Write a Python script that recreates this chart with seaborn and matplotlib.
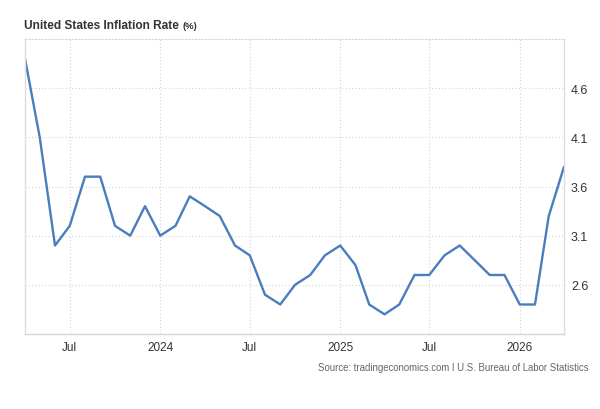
import matplotlib
matplotlib.use("Agg")
import matplotlib.pyplot as plt
import seaborn as sns
import pandas as pd

# Data (monthly, Oct 2025 not published)
dates = ["2023-04-01", "2023-05-01", "2023-06-01", "2023-07-01", "2023-08-01", "2023-09-01",
         "2023-10-01", "2023-11-01", "2023-12-01", "2024-01-01", "2024-02-01", "2024-03-01",
         "2024-04-01", "2024-05-01", "2024-06-01", "2024-07-01", "2024-08-01", "2024-09-01",
         "2024-10-01", "2024-11-01", "2024-12-01", "2025-01-01", "2025-02-01", "2025-03-01",
         "2025-04-01", "2025-05-01", "2025-06-01", "2025-07-01", "2025-08-01", "2025-09-01",
         "2025-11-01", "2025-12-01", "2026-01-01", "2026-02-01", "2026-03-01", "2026-04-01"]
inflation = [4.9, 4.1, 3.0, 3.2, 3.7, 3.7,
             3.2, 3.1, 3.4, 3.1, 3.2, 3.5,
             3.4, 3.3, 3.0, 2.9, 2.5, 2.4,
             2.6, 2.7, 2.9, 3.0, 2.8, 2.4,
             2.3, 2.4, 2.7, 2.7, 2.9, 3.0,
             2.7, 2.7, 2.4, 2.4, 3.3, 3.8]
x_tick_dates = ["2023-07-01", "2024-01-01", "2024-07-01", "2025-01-01", "2025-07-01", "2026-01-01"]
x_tick_labels = ["Jul", "2024", "Jul", "2025", "Jul", "2026"]
y_ticks = [2.6, 3.1, 3.6, 4.1, 4.6]
y_tick_labels = ["2.6", "3.1", "3.6", "4.1", "4.6"]

title = "United States Inflation Rate"
unit = "(%)"
source = "Source: tradingeconomics.com I U.S. Bureau of Labor Statistics"

sns.set_theme(style="white")
plt.rcParams["font.family"] = ["Liberation Sans", "DejaVu Sans"]

df = pd.DataFrame({"date": pd.to_datetime(dates), "value": inflation})

fig = plt.figure(figsize=(6.0, 4.1), dpi=100)
ax = fig.add_axes([25/600, 1 - 335/410, (564 - 25)/600, (335 - 40)/410])

sns.lineplot(data=df, x="date", y="value", ax=ax, color="#4a7dbd", linewidth=1.7)

ax.set_xlim(df["date"].min(), df["date"].max())
ax.set_ylim(2.1, 5.1)

ax.set_xticks(pd.to_datetime(x_tick_dates))
ax.set_xticklabels(x_tick_labels)
ax.set_yticks(y_ticks)
ax.set_yticklabels(y_tick_labels)
ax.yaxis.tick_right()
ax.tick_params(axis="both", length=0, colors="#333333")
ax.tick_params(axis="y", pad=5, labelsize=9)
ax.tick_params(axis="x", pad=5, labelsize=8.5)
ax.set_xlabel("")
ax.set_ylabel("")

ax.grid(True, linestyle=(0, (1, 2)), color="#d4d4d4", linewidth=0.8)

for side in ["left", "right", "bottom"]:
    ax.spines[side].set_visible(True)
    ax.spines[side].set_color("#dddddd")
    ax.spines[side].set_linewidth(1.0)
ax.spines["bottom"].set_color("#d6d6d6")
ax.spines["top"].set_visible(True)
ax.spines["top"].set_color("#d4d4d4")
ax.spines["top"].set_linestyle((0, (1, 2)))
ax.spines["top"].set_linewidth(0.8)

t = fig.text(24/600, 1 - 26/410, title, fontsize=8.6, fontweight="bold", color="#333333",
             va="center", ha="left")
fig.canvas.draw()
bb = t.get_window_extent()
fig.text((bb.x1 + 4)/600, 1 - 26.5/410, unit, fontsize=6.8, fontweight="bold", color="#333333",
         va="center", ha="left")

fig.text(589/600, 1 - 368/410, source, fontsize=6.9, color="#666666", ha="right", va="center")

fig.savefig("out.png", dpi=100)
